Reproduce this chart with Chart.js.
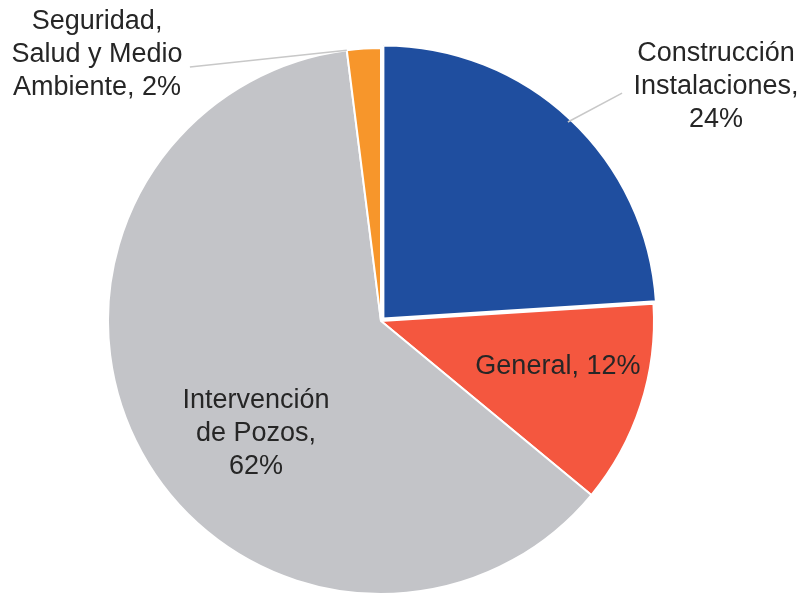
<!DOCTYPE html>
<html>
<head>
<meta charset="utf-8">
<script src="https://cdn.jsdelivr.net/npm/chart.js@4"></script>
<style>
  html, body { margin: 0; padding: 0; background: #fff; }
  canvas { display: block; }
</style>
</head>
<body>
<canvas id="pie" width="806" height="599"></canvas>
<script>
// slices, clockwise from 12 o'clock
const categories = [
  ['Construcción', 'Instalaciones,'],
  ['General,'],
  ['Intervención', 'de Pozos,'],
  ['Seguridad,', 'Salud y Medio', 'Ambiente,']
];
const shares = [24, 12, 62, 2];
const sliceColors = ['#1f4e9f', '#f4573f', '#c3c4c8', '#f7962b'];

// label placement, in units of the pie radius from its centre
const labelSpots = [
  { fx: 1.227, fy: -0.86, lead: { fx: 0.883, fy: -0.835, t: 0.5 } },
  { fx: 0.648, fy: 0.168, inline: true },
  { fx: -0.458, fy: 0.414 },
  { fx: -1.04, fy: -0.975, lead: { fx: -0.70, fy: -0.93, t: 0.0 } }
];

const FONT = '27px "Liberation Sans", Arial, sans-serif';
const LINE_H = 33;

const sliceLabels = {
  id: 'sliceLabels',
  afterDatasetsDraw(chart) {
    const { ctx } = chart;
    const arcs = chart.getDatasetMeta(0).data;
    ctx.save();
    arcs.forEach((arc, i) => {
      const { x, y, outerRadius: r, startAngle, endAngle } = arc.getProps(['x', 'y', 'outerRadius', 'startAngle', 'endAngle'], true);
      const spot = labelSpots[i];
      const pct = shares[i] + '%';
      const lines = spot.inline
        ? [categories[i].join(' ') + ' ' + pct]
        : categories[i].length === 3
          ? [categories[i][0], categories[i][1], categories[i][2] + ' ' + pct]
          : [...categories[i], pct];

      if (spot.lead) {
        const a = startAngle + (endAngle - startAngle) * spot.lead.t;
        ctx.strokeStyle = '#c8c8c8';
        ctx.lineWidth = 1.5;
        ctx.beginPath();
        ctx.moveTo(x + r * spot.lead.fx, y + r * spot.lead.fy);
        ctx.lineTo(x + r * Math.cos(a), y + r * Math.sin(a));
        ctx.stroke();
      }

      const cx = x + r * spot.fx;
      const cy = y + r * spot.fy;
      ctx.font = FONT;
      ctx.fillStyle = '#262626';
      ctx.textAlign = 'center';
      ctx.textBaseline = 'middle';
      const top = cy - (lines.length - 1) * LINE_H / 2;
      lines.forEach((ln, k) => ctx.fillText(ln, cx, top + k * LINE_H));
    });
    ctx.restore();
  }
};

new Chart(document.getElementById('pie'), {
  type: 'pie',
  data: {
    labels: categories.map(c => c.join(' ')),
    datasets: [{
      data: shares,
      backgroundColor: sliceColors,
      borderColor: '#ffffff',
      borderWidth: 2,
      // the blue slice sits pulled out a little from the centre
      offset: [14, 0, 0, 0]
    }]
  },
  options: {
    responsive: false,
    animation: false,
    devicePixelRatio: 1,
    radius: 273,
    layout: { padding: { left: 0, right: 44, top: 43, bottom: 0 } },
    plugins: {
      legend: { display: false },
      tooltip: { enabled: false }
    }
  },
  plugins: [sliceLabels]
});
</script>
</body>
</html>
